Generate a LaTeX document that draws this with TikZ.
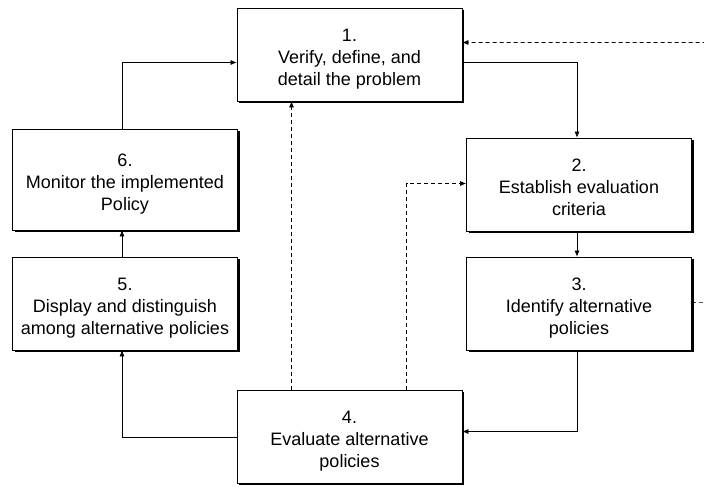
\documentclass[tikz,border=0pt]{standalone}
\usepackage{fontspec}
\setmainfont{Liberation Sans}
\usetikzlibrary{arrows.meta,positioning,calc,shadows}

\begin{document}
\begin{tikzpicture}[
  x=1pt, y=-1pt,
  every node/.style={font=\fontsize{18}{22}\selectfont},
  stepbox/.style={draw=black, fill=white, line width=0.8pt, align=center,
                  minimum width=225pt, minimum height=93pt,
                  text height=66pt, text depth=4pt,
                  drop shadow={shadow xshift=2pt, shadow yshift=-2pt,
                               fill=black, opacity=1}},
  arr/.style={-{Latex[length=6pt,width=5pt]}, line width=0.6pt},
  dasharr/.style={arr, dash pattern=on 4pt off 3pt},
]
  \useasboundingbox (0,0) rectangle (704,487);

  % Steps
  \node[stepbox] (b1) at (349.5, 54.5)
    {1.\\Verify, define, and\\detail the problem};
  \node[stepbox] (b2) at (579, 184.5)
    {2.\\Establish evaluation\\criteria};
  \node[stepbox] (b3) at (579, 303.5)
    {3.\\Identify alternative\\policies};
  \node[stepbox] (b4) at (349.5, 436.5)
    {4.\\Evaluate alternative\\policies};
  \node[stepbox] (b5) at (125, 303.5)
    {5.\\Display and distinguish\\among alternative policies};
  \node[stepbox, minimum height=101pt] (b6) at (125, 179.5)
    {6.\\Monitor the implemented\\Policy};

  % Loop back out of frame
  \coordinate (out) at (720, 302);

  % Arrows
  \draw[arr] ($(b1.east)+(0,8)$) -| ($(b2.north)+(-2,0)$);
  \draw[arr] ($(b2.south)+(-2,0)$) -- ($(b3.north)+(-2,0)$);
  \draw[arr] ($(b3.south)+(-2,0)$) |- ($(b4.east)+(0,-5)$);
  \draw[arr] ($(b4.west)+(0,1)$) -| ($(b5.south)+(-3,0)$);
  \draw[arr] ($(b5.north)+(-3,0)$) -- ($(b6.south)+(-3,0)$);
  \draw[arr] ($(b6.north)+(-3,0)$) |- ($(b1.west)+(0,8)$);

  % Dashed feedback
  \draw[dasharr] ($(b4.north)+(-58,0)$) -- ($(b1.south)+(-58,0)$);
  \draw[dasharr] ($(b4.north)+(57,0)$) |- ($(b2.west)+(0,-1)$);
  \draw[dasharr] ($(b3.east)+(0,-1)$) -- (out) |- ($(b1.east)+(0,-12)$);
\end{tikzpicture}
\end{document}
